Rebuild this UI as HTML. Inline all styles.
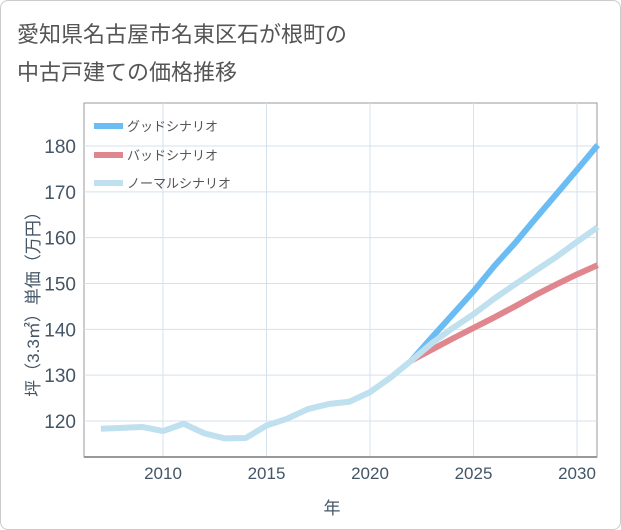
<!DOCTYPE html>
<html><head><meta charset="utf-8"><style>
body{margin:0;background:#fff;font-family:"Liberation Sans","Noto Sans CJK JP",sans-serif}
#wrap{position:relative;width:619px;height:528px;border:1px solid #ccc;border-radius:8px;overflow:hidden}
.t{position:absolute;left:16px;font-size:22px;color:#555}
</style></head><body>
<div id="wrap">
<div class="t" style="top:16px">愛知県名古屋市名東区石が根町の</div>
<div class="t" style="top:54px">中古戸建ての価格推移</div>
<svg id="c" width="621" height="530" style="position:absolute;left:-1px;top:-1px"></svg>
</div>
<script>
const years=[2007,2008,2009,2010,2011,2012,2013,2014,2015,2016,2017,2018,2019,2020,2021,2022];
const hist=[118.3,118.5,118.7,117.8,119.4,117.3,116.2,116.3,119,120.5,122.6,123.7,124.2,126.3,129.5,133.2];
const fYears=[2022,2023,2024,2025,2026,2027,2028,2029,2030,2031];
const good=[133.2,138.3,143.3,148.3,153.8,158.8,164.2,169.5,174.8,180.2];
const bad=[133.2,135.6,138,140.3,142.6,145,147.5,149.8,152,154];
const normal=[133.2,137,140.3,143.3,146.7,149.8,152.8,155.8,159.1,162.3];
const xTicks=[2010,2015,2020,2025,2030];
const yTicks=[120,130,140,150,160,170,180];
const L=84,R=597,T=103,B=457;
const X=v=>163+(v-2010)*20.7, Y=v=>421-(v-120)*4.583;
const s=document.getElementById('c'),NS='http://www.w3.org/2000/svg';
function e(t,a,txt){const n=document.createElementNS(NS,t);for(const k in a)n.setAttribute(k,a[k]);if(txt!=null)n.textContent=txt;s.appendChild(n);return n;}
let g;
g=e('rect',{x:L,y:T,width:R-L,height:B-T,fill:'#fff',stroke:'#999'});

xTicks.forEach(v=>{g=e('line',{x1:X(v),x2:X(v),y1:T,y2:B,stroke:'#d5e2ec'});
g=e('text',{x:X(v),y:479,'text-anchor':'middle','font-size':17,fill:'#456'},v);});
yTicks.forEach(v=>{g=e('line',{x1:L,x2:R,y1:Y(v),y2:Y(v),stroke:'#d5e2ec'});
g=e('text',{x:76,y:Y(v)+7,'text-anchor':'end','font-size':19,fill:'#456'},v);});
g=e('line',{x1:L,x2:R,y1:B,y2:B,stroke:'#999',"stroke-width":2});
function line(xs,ys,c,n){g=e('polyline',{points:xs.map((x,i)=>X(x)+','+Y(ys[i])).join(' '),fill:'none',stroke:c,'stroke-width':6,'stroke-linejoin':'round'});}
line(fYears,good,'#6bbcf3','good-scenario-line');
line(fYears,bad,'#e0868e','bad-scenario-line');
line(fYears,normal,'#bfe0ee','normal-scenario-line');
line(years,hist,'#bfe0ee','historical-line');
[['グッドシナリオ','#6bbcf3',126],['バッドシナリオ','#e0868e',155],['ノーマルシナリオ','#bfe0ee',183]].forEach(([t,c,y])=>{
g=e('line',{x1:94,x2:123,y1:y,y2:y,stroke:c,'stroke-width':6});
g=e('text',{x:127,y:y+5,'font-size':13,fill:'#555'},t);});
g=e('text',{x:332,y:514,'text-anchor':'middle','font-size':17,fill:'#456'},'年');
g=e('text',{x:0,y:0,transform:'translate(39,300) rotate(-90)','text-anchor':'middle','font-size':17,fill:'#456'},'坪（3.3㎡）単価（万円）');
</script>
</body></html>
